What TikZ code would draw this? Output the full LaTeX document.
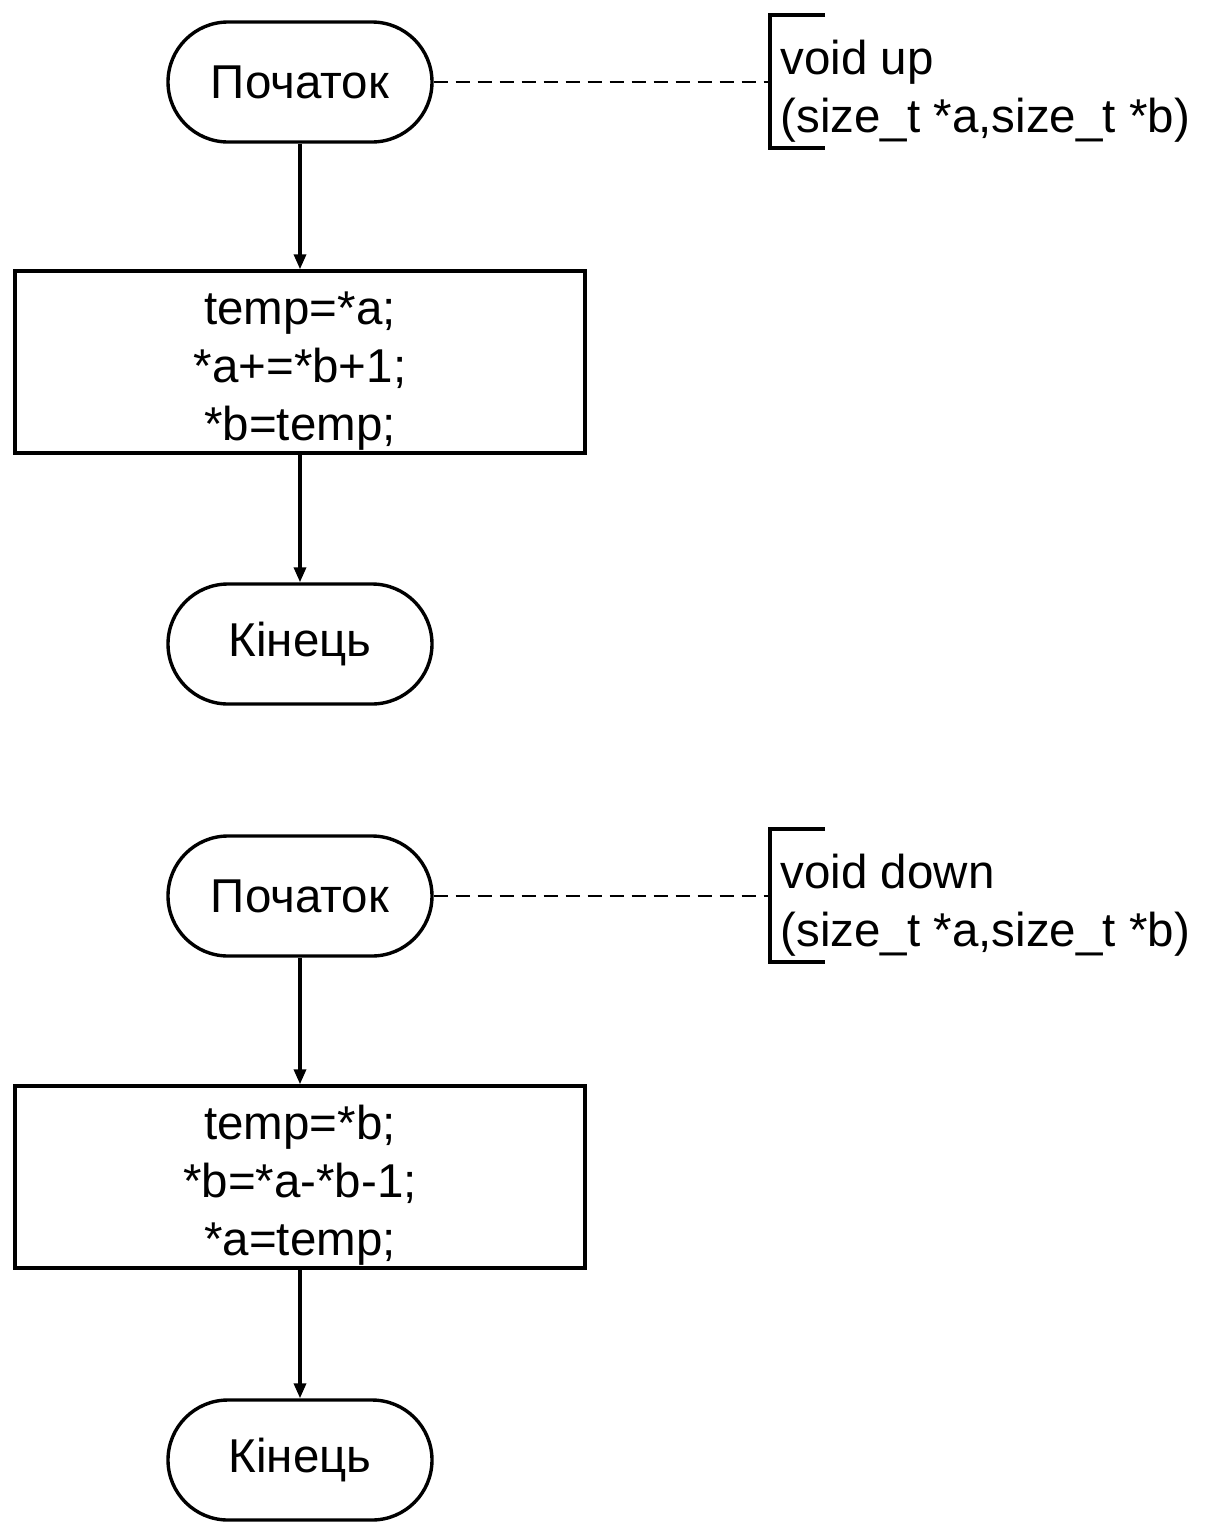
\documentclass[tikz,border=0pt]{standalone}
\usepackage{fontspec}
\setmainfont{Liberation Sans}
\usetikzlibrary{arrows.meta}
\newcommand{\toppad}{\rule{0pt}{50pt}}
\begin{document}
\begin{tikzpicture}[x=1pt,y=-1pt,
  line width=3.4pt,
  every node/.style={font=\fontsize{47.5}{58}\selectfont},
  term/.style={draw, rounded corners=60pt, minimum width=264pt, minimum height=120pt, inner sep=0pt},
  proc/.style={draw, minimum width=570pt, minimum height=182pt, align=center, inner sep=0pt},
  flow/.style={-{Triangle[length=15pt,width=12pt]}},
  dashline/.style={line width=2.8pt, dash pattern=on 14pt off 8pt},
  note/.style={anchor=west, align=left, inner sep=0pt},
]
\useasboundingbox (0,0) rectangle (1215,1534);

% function up
\node[term] (s1) at (300,82) {Початок};
\node[proc] (p1) at (300,362) {\toppad temp=*a;\\*a+=*b+1;\\*b=temp;};
\node[term] (e1) at (300,644) {Кінець};
\draw[flow] (s1) -- (p1);
\draw[flow] (p1) -- (e1);
\coordinate (b1) at (770,82);
\draw (825,15) -- (770,15) -- (770,148) -- (825,148);
\draw[dashline] (s1.east) -- (b1);
\node[note] (n1) at (779,91) {void up\\(size\_t *a,size\_t *b)};

% function down
\node[term] (s2) at (300,896) {Початок};
\node[proc] (p2) at (300,1177) {\toppad temp=*b;\\*b=*a-*b-1;\\*a=temp;};
\node[term] (e2) at (300,1460) {Кінець};
\draw[flow] (s2) -- (p2);
\draw[flow] (p2) -- (e2);
\coordinate (b2) at (770,896);
\draw (825,829) -- (770,829) -- (770,962) -- (825,962);
\draw[dashline] (s2.east) -- (b2);
\node[note] (n2) at (779,905) {void down\\(size\_t *a,size\_t *b)};
\end{tikzpicture}
\end{document}
